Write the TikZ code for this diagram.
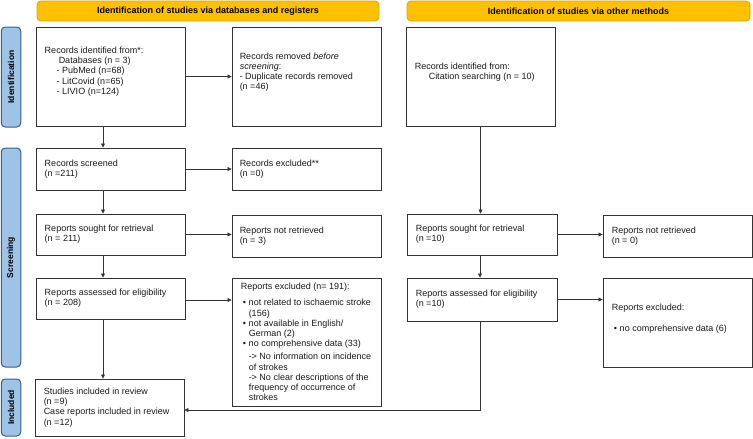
\documentclass[tikz,border=0pt]{standalone}
\usepackage{fontspec}
\setmainfont{Liberation Sans}
\usetikzlibrary{arrows.meta}
\definecolor{gold}{HTML}{FFC000}
\definecolor{goldline}{HTML}{D9A400}
\definecolor{sideblue}{HTML}{9DC3E6}
\definecolor{sideline}{HTML}{3B5E80}
\definecolor{ink}{HTML}{333333}
\definecolor{txtc}{HTML}{1A1A1A}
\newcommand{\bul}{\hspace*{2pt}\makebox[6pt][l]{\textbullet}}
\newcommand{\cont}{\hspace*{8pt}}
\begin{document}
\begin{tikzpicture}[x=1pt,y=-1pt,
  box/.style={draw=ink, line width=0.9pt, inner sep=0pt, fill=white},
  txt/.style={font=\fontsize{9}{10.2}\selectfont, text=txtc, align=left, inner sep=0pt, anchor=west},
  arr/.style={draw=ink, line width=0.8pt, -{Triangle[length=4pt,width=4pt]}},
  head/.style={draw=goldline, fill=gold, rounded corners=4pt, line width=0.8pt, font=\bfseries\fontsize{9}{10}\selectfont, inner sep=0pt, minimum height=20pt},
  side/.style={draw=sideline, fill=sideblue, rounded corners=4pt, line width=1pt, inner sep=0pt, font=\bfseries\fontsize{8.5}{10}\selectfont, rotate=90, minimum height=19.5pt}
]
\useasboundingbox (0,0) rectangle (753,439);

% headers
\node[head, minimum width=342pt] (h1) at (208,11) {Identification of studies via databases and registers};
\node[head, minimum width=343pt] (h2) at (578.5,11) {Identification of studies via other methods};

% side labels
\node[side, minimum width=100pt] (sid) at (11,77) {Identification};
\node[side, minimum width=219pt] (sscr) at (11,257.5) {Screening};
\node[side, minimum width=57pt] (sinc) at (11,407.5) {Included};

% boxes
\node[box, minimum width=149pt, minimum height=99pt] (b1) at (110.5,76.5) {};
\node[box, minimum width=149pt, minimum height=99pt] (rem) at (306.5,76.5) {};
\node[box, minimum width=149pt, minimum height=99pt] (cit) at (480.5,76.5) {};
\node[box, minimum width=149pt, minimum height=42pt] (scr) at (110.5,169) {};
\node[box, minimum width=149pt, minimum height=42pt] (exc) at (306.5,169) {};
\node[box, minimum width=149pt, minimum height=41pt] (sou) at (110.5,234.5) {};
\node[box, minimum width=149pt, minimum height=42pt] (nre) at (306.5,236) {};
\node[box, minimum width=150pt, minimum height=41pt] (sou2) at (482,234.5) {};
\node[box, minimum width=149pt, minimum height=42pt] (nre2) at (677.5,236) {};
\node[box, minimum width=149pt, minimum height=41pt] (ass) at (110.5,298.5) {};
\node[box, minimum width=149pt, minimum height=128pt] (rex) at (306.5,342) {};
\node[box, minimum width=150pt, minimum height=43pt] (ass2) at (482,299.5) {};
\node[box, minimum width=149pt, minimum height=89pt] (rex2) at (677.5,322.5) {};
\node[box, minimum width=149pt, minimum height=57pt] (inc) at (109.5,407.5) {};

% texts
\node[txt] (b1t) at ([xshift=9pt,yshift=5pt]b1.west) {Records identified from*:\\
\hspace*{14pt}Databases (n = 3)\\
\hspace*{12pt}- PubMed (n=68)\\
\hspace*{12pt}- LitCovid (n=65)\\
\hspace*{12pt}- LIVIO (n=124)};
\node[txt] (remt) at ([xshift=8pt,yshift=4.5pt]rem.west) {Records removed \textit{before}\\ \textit{screening}:\\ - Duplicate records removed\\ (n =46)};
\node[txt] (citt) at ([xshift=9pt,yshift=4.5pt]cit.west) {Records identified from:\\ \hspace*{14pt}Citation searching (n = 10)};
\node[txt] (scrt) at ([xshift=9pt]scr.west) {Records screened\\ (n =211)};
\node[txt] (exct) at ([xshift=8pt]exc.west) {Records excluded**\\ (n =0)};
\node[txt] (sout) at ([xshift=9pt]sou.west) {Reports sought for retrieval\\ (n = 211)};
\node[txt] (nret) at ([xshift=8pt]nre.west) {Reports not retrieved\\ (n = 3)};
\node[txt] (sou2t) at ([xshift=9pt]sou2.west) {Reports sought for retrieval\\ (n =10)};
\node[txt] (nre2t) at ([xshift=9pt]nre2.west) {Reports not retrieved\\ (n = 0)};
\node[txt] (asst) at ([xshift=9pt]ass.west) {Reports assessed for eligibility\\ (n = 208)};
\node[txt] (ass2t) at ([xshift=9pt]ass2.west) {Reports assessed for eligibility\\ (n =10)};
\node[txt] (rext) at ([xshift=9pt]rex.west) {Reports excluded (n= 191):\\[6pt]
\bul not related to ischaemic stroke\\
\cont (156)\\
\bul not available in English/\\
\cont German (2)\\
\bul no comprehensive data (33)\\[3pt]
\cont -> No information on incidence\\
\cont of strokes\\
\cont -> No clear descriptions of the\\
\cont frequency of occurrence of\\
\cont strokes};
\node[txt] (rex2t) at ([xshift=9pt,yshift=4pt]rex2.west) {Reports excluded:\\[11pt] \bul no comprehensive data (6)};
\node[txt] (inct) at ([xshift=9pt]inc.west) {Studies included in review\\ (n =9)\\ Case reports included in review\\ (n =12)};

% connectors
\draw[arr] (b1.east) -- (b1.east -| rem.west);
\draw[arr] ([xshift=-7.5pt]b1.south) -- ([xshift=-7.5pt]scr.north);
\draw[arr] (scr.east) -- (scr.east -| exc.west);
\draw[arr] ([xshift=-7.5pt]scr.south) -- ([xshift=-7.5pt]sou.north);
\draw[arr] (sou.east) -- (sou.east -| nre.west);
\draw[arr] ([xshift=-7.5pt]sou.south) -- ([xshift=-7.5pt]ass.north);
\draw[arr] ([yshift=-1.5pt]ass.east) -- ([yshift=-1.5pt]ass.east -| rex.west);
\draw[arr] ([xshift=-7.5pt]ass.south) -- ([xshift=-6.5pt]inc.north);
\draw[arr] (cit.south) -- (cit.south |- sou2.north);
\draw[arr] (sou2.east) -- (sou2.east -| nre2.west);
\draw[arr] ([xshift=-2pt]sou2.south) -- ([xshift=-2pt]ass2.north);
\draw[arr] (ass2.east) -- (ass2.east -| rex2.west);
\draw[arr] ([xshift=-2pt]ass2.south) |- ([yshift=-2.5pt]inc.east);
\end{tikzpicture}
\end{document}
